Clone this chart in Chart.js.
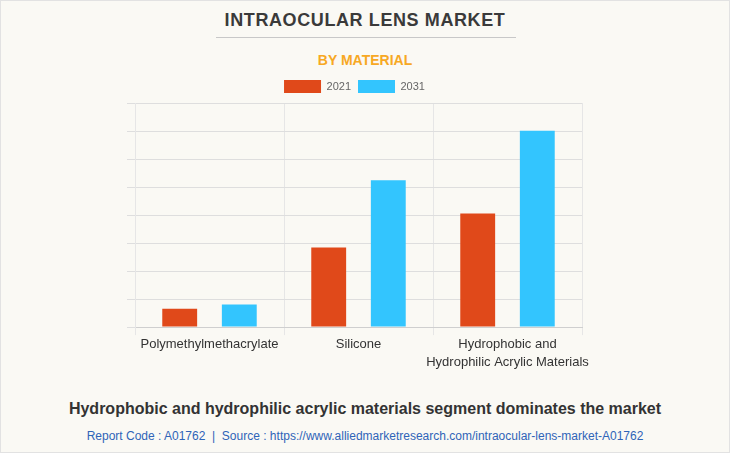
<!DOCTYPE html>
<html lang="en">
<head>
  <meta charset="UTF-8">
  <title>Intraocular Lens Market</title>
  <script src="https://cdn.jsdelivr.net/npm/chart.js"></script>
  <style>
    body { margin: 0; background: #fff; }
    .frame {
      position: relative;
      width: 728px;
      height: 451px;
      background: #faf9f4;
      border: 1px solid #e2e2e2;
      font-family: "Liberation Sans", Arial, sans-serif;
    }
    .titulo {
      position: absolute; left: 0; width: 728px; top: 9px;
      text-align: center; font-size: 18px; font-weight: bold; color: #3a3a3a;
      letter-spacing: 0.6px;
    }
    .linha {
      position: absolute; left: 215px; width: 300px; top: 36px;
      border-top: 1px solid #c8c8c8;
    }
    .subtitulo {
      position: absolute; left: 0; width: 728px; top: 51px;
      text-align: center; font-size: 14px; font-weight: bold; color: #f7a823;
    }
    .grafico {
      position: absolute; left: 0; top: 70px; width: 728px; height: 300px;
    }
    .rodape {
      position: absolute; left: 0; width: 728px; top: 399px;
      text-align: center; font-size: 16px; font-weight: bold; color: #333;
    }
    .fonte {
      position: absolute; left: 0; width: 728px; top: 428px;
      text-align: center; font-size: 12px; color: #2f64b8;
    }
  </style>
</head>
<body>
  <div class="frame">
    <div class="titulo">INTRAOCULAR LENS MARKET</div>
    <div class="linha"></div>
    <div class="subtitulo">BY MATERIAL</div>
    <div class="grafico"><canvas id="grafico"></canvas></div>
    <div class="rodape">Hydrophobic and hydrophilic acrylic materials segment dominates the market</div>
    <div class="fonte">Report Code : A01762 &nbsp;|&nbsp; Source : https://www.alliedmarketresearch.com/intraocular-lens-market-A01762</div>
  </div>

  <script>
    // dados (escala relativa, sem rotulos no eixo y)
    const categorias = ['Polymethylmethacrylate', 'Silicone', ['Hydrophobic and', 'Hydrophilic Acrylic Materials']];
    const valores2021 = [0.66, 2.84, 4.06];
    const valores2031 = [0.81, 5.24, 7.01];
    const anos = ['2021', '2031'];

    const ctx = document.getElementById('grafico').getContext('2d');
    new Chart(ctx, {
      type: 'bar',
      data: {
        labels: categorias,
        datasets: [
          { label: anos[0], data: valores2021, backgroundColor: '#e0491a' },
          { label: anos[1], data: valores2031, backgroundColor: '#33c5fe' }
        ]
      },
      options: {
        responsive: true,
        maintainAspectRatio: false,
        animation: false,
        categoryPercentage: 0.8,
        barPercentage: 0.585,
        layout: { padding: { left: 126, right: 147, top: 2, bottom: 0 } },
        plugins: {
          legend: {
            position: 'top',
            labels: {
              boxWidth: 37, boxHeight: 13, padding: 7,
              color: '#666', font: { family: 'Liberation Sans', size: 11 }
            }
          },
          tooltip: { enabled: false }
        },
        scales: {
          x: {
            grid: {
              color: (c) => c.index === 3 ? 'rgba(0,0,0,0)' : '#e6e6e6',
              tickLength: 8
            },
            border: { color: '#cfcfcf' },
            ticks: {
              color: '#333', padding: 0, maxRotation: 0, autoSkip: false,
              font: { family: 'Liberation Sans', size: 13, lineHeight: 1.38 }
            }
          },
          y: {
            min: 0, max: 8,
            grid: { color: '#dedede', tickLength: 8 },
            border: { color: '#e6e6e6' },
            ticks: { display: false, stepSize: 1 }
          }
        }
      }
    });
  </script>
</body>
</html>
